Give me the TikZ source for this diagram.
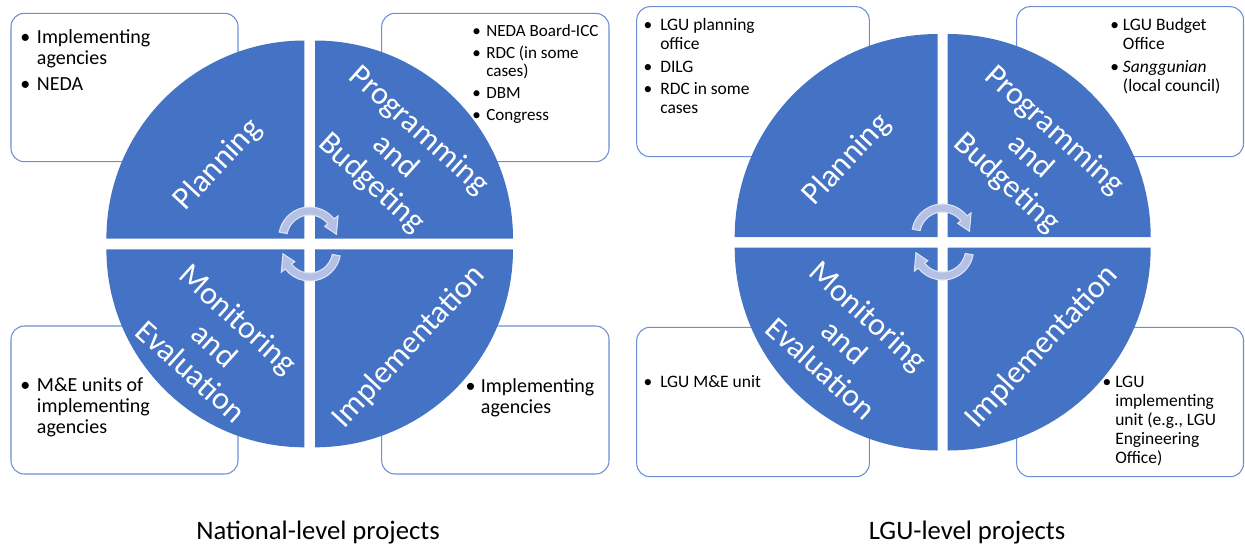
\documentclass[tikz,border=0pt]{standalone}
\usepackage{fontspec}
\setmainfont{Carlito}
\newcommand{\bul}[1][5pt]{\llap{\textbullet\hspace{#1}}}

\begin{document}
\begin{tikzpicture}[
    x=0.75pt, y=-0.75pt,
    every node/.style={align=left, inner sep=0pt, text=black},
    box/.style={draw=boxLine, line width=0.8pt, rounded corners=10pt},
    quad/.style={fill=quadFill},
    phase/.style={text=white, align=center, font=\fontsize{24}{26.5}\selectfont},
    listL/.style={anchor=north west, font=\fontsize{15}{15.75}\selectfont},
    listS/.style={anchor=north west, font=\fontsize{12.8}{14}\selectfont},
    listM/.style={anchor=north west, font=\fontsize{13.1}{14.25}\selectfont},
    caption/.style={font=\fontsize{20}{24}\selectfont},
    cycArrow/.style={fill=cycFill, draw=cycLine, line width=0.8pt}
  ]
    \definecolor{quadFill}{RGB}{68,114,196}
    \definecolor{boxLine}{RGB}{108,142,210}
    \definecolor{cycFill}{RGB}{180,193,228}
    \definecolor{cycLine}{RGB}{222,228,243}

    \useasboundingbox (0,0) rectangle (1245,547);

    % national-level cycle
    \draw[box] (11,13.3) rectangle (238,161.7);
    \draw[box] (381.7,13.3) rectangle (609,161.7);
    \draw[box] (11,326) rectangle (238,474);
    \draw[box] (381.7,326) rectangle (609,474);

    \fill[quad] (304.4,238.5) -- ++(-198,0) arc[start angle=180, end angle=270, radius=198] -- cycle;
    \fill[quad] (315,238.5) -- ++(0,-198) arc[start angle=270, end angle=360, radius=198] -- cycle;
    \fill[quad] (315,249.3) -- ++(198,0) arc[start angle=0, end angle=90, radius=198] -- cycle;
    \fill[quad] (304.4,249.3) -- ++(0,198) arc[start angle=90, end angle=180, radius=198] -- cycle;

    \node[phase, rotate=47] (planN) at (218,165) {Planning};
    \node[phase, rotate=-42] (progN) at (395,157) {Programming\\and\\Budgeting};
    \node[phase, rotate=-42] (monN) at (215,345) {Monitoring\\and\\Evaluation};
    \node[phase, rotate=47] (implN) at (409,347) {Implementation};

    \begin{scope}[shift={(309.7,238)}]
      \filldraw[cycArrow] (191:31) arc[start angle=191, end angle=322, radius=31] -- (322:36) -- (352:27)
        -- (322:19) -- (322:23) arc[start angle=322, end angle=191, radius=23] -- cycle;
    \end{scope}
    \begin{scope}[shift={(309.7,250)}, rotate=180]
      \filldraw[cycArrow] (191:31) arc[start angle=191, end angle=322, radius=31] -- (322:36) -- (352:27)
        -- (322:19) -- (322:23) arc[start angle=322, end angle=191, radius=23] -- cycle;
    \end{scope}

    \node[listL] (agencyN) at (36.7,29) {\bul Implementing\\agencies\\[4pt]\bul NEDA};
    \node[listS] (budgetN) at (486,24) {\bul[4pt]NEDA Board-ICC\\[2.5pt]\bul[4pt]RDC (in some\\cases)\\[2.5pt]\bul[4pt]DBM\\[2.5pt]\bul[4pt]Congress};
    \node[listL] (meN) at (36.7,377.7) {\bul M\&E units of\\implementing\\agencies};
    \node[listL] (implAgN) at (480.7,378.7) {\bul[4pt]Implementing\\agencies};

    \node[caption] (nationalN) at (318,533) {National-level projects};

    % LGU-level cycle
    \draw[box] (636.7,6.7) rectangle (869.3,156.7);
    \draw[box] (1016.7,6.7) rectangle (1243.5,156.7);
    \draw[box] (636.7,327.3) rectangle (869.3,476.7);
    \draw[box] (1016.7,327.3) rectangle (1243.5,476.7);

    \fill[quad] (937.7,237) -- ++(-203,0) arc[start angle=180, end angle=270, radius=203] -- cycle;
    \fill[quad] (947.7,237) -- ++(0,-203) arc[start angle=270, end angle=360, radius=203] -- cycle;
    \fill[quad] (947.7,247.5) -- ++(203,0) arc[start angle=0, end angle=90, radius=203] -- cycle;
    \fill[quad] (937.7,247.5) -- ++(0,203) arc[start angle=90, end angle=180, radius=203] -- cycle;

    \node[phase, rotate=47] (planL) at (847,160) {Planning};
    \node[phase, rotate=-42] (progL) at (1030,157) {Programming\\and\\Budgeting};
    \node[phase, rotate=-42] (monL) at (845,342) {Monitoring\\and\\Evaluation};
    \node[phase, rotate=47] (implL) at (1042,347) {Implementation};

    \begin{scope}[shift={(942.7,235)}]
      \filldraw[cycArrow] (191:31) arc[start angle=191, end angle=322, radius=31] -- (322:36) -- (352:27)
        -- (322:19) -- (322:23) arc[start angle=322, end angle=191, radius=23] -- cycle;
    \end{scope}
    \begin{scope}[shift={(942.7,249)}, rotate=180]
      \filldraw[cycArrow] (191:31) arc[start angle=191, end angle=322, radius=31] -- (322:36) -- (352:27)
        -- (322:19) -- (322:23) arc[start angle=322, end angle=191, radius=23] -- cycle;
    \end{scope}

    \node[listM] (lguPlanN) at (660,18.5) {\bul[6pt]LGU planning\\office\\[2.6pt]\bul[6pt]DILG\\[2.6pt]\bul[6pt]RDC in some\\cases};
    \node[listM] (lguBudN) at (1122.7,18.5) {\bul[3pt]LGU Budget\\Office\\[2.6pt]\bul[3pt]\textit{Sanggunian}\\(local council)};
    \node[listM] (lguMeN) at (660,375) {\bul[6pt]LGU M\&E unit};
    \node[listM] (lguImplN) at (1115,376) {\bul[3pt]LGU\\implementing\\unit (e.g., LGU\\Engineering\\Office)};

    \node[caption] (lguN) at (967,533) {LGU-level projects};
  \end{tikzpicture}
\end{document}
